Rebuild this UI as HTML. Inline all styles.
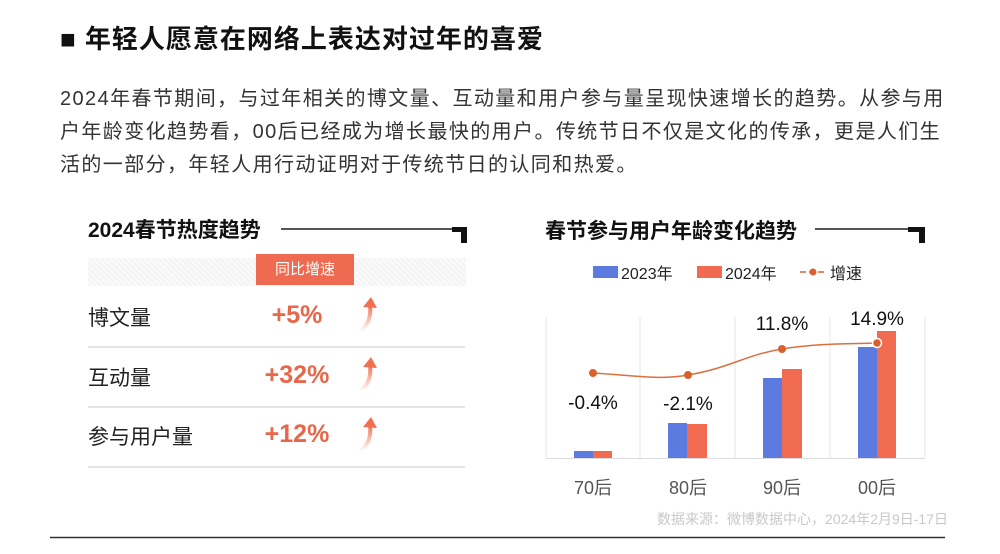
<!DOCTYPE html>
<html><head><meta charset="utf-8"><style>
body{margin:0;width:1000px;height:554px;background:#fff;position:relative;overflow:hidden;font-family:"Liberation Sans","Noto Sans CJK SC",sans-serif;color:#222}
.a{position:absolute;white-space:nowrap}
</style></head><body>
<div class="a" style="left:60px;top:19px;font-size:26px;font-weight:bold;color:#111;letter-spacing:1px">■ 年轻人愿意在网络上表达对过年的喜爱</div>
<div class="a" style="left:60px;top:83px;font-size:20px;line-height:33px;color:#333;letter-spacing:1.4px">2024年春节期间，与过年相关的博文量、互动量和用户参与量呈现快速增长的趋势。从参与用<br>户年龄变化趋势看，00后已经成为增长最快的用户。传统节日不仅是文化的传承，更是人们生<br>活的一部分，年轻人用行动证明对于传统节日的认同和热爱。</div>

<div class="a" style="left:88px;top:214px;font-size:21px;font-weight:bold;color:#111">2024春节热度趋势</div>
<div class="a" style="left:281px;top:228px;width:180px;height:2px;background:#555"></div>
<div class="a" style="left:452px;top:227px;width:15px;height:5px;background:#111"></div>
<div class="a" style="left:461px;top:227px;width:6px;height:16px;background:#111"></div>
<div class="a" style="left:88px;top:258px;width:378px;height:28px;background:repeating-linear-gradient(45deg,#f4f4f4 0 2px,#fafafa 2px 4px)"></div>
<div class="a" style="left:256px;top:254px;width:98px;height:31px;background:#ee6a50;color:#fff;font-size:15px;line-height:31px;text-align:center">同比增速</div>
<div class="a" style="left:88px;top:302px;font-size:21px;color:#222">博文量</div>
<div class="a" style="left:88px;top:362px;font-size:21px;color:#222">互动量</div>
<div class="a" style="left:88px;top:421px;font-size:21px;color:#222">参与用户量</div>
<div class="a" style="left:247px;top:301px;width:100px;text-align:center;font-size:25px;font-weight:bold;color:#e8664a">+5%</div>
<div class="a" style="left:247px;top:361px;width:100px;text-align:center;font-size:25px;font-weight:bold;color:#e8664a">+32%</div>
<div class="a" style="left:247px;top:420px;width:100px;text-align:center;font-size:25px;font-weight:bold;color:#e8664a">+12%</div>
<div class="a" style="left:88px;top:346px;width:377px;height:2px;background:#e4e4e4"></div>
<div class="a" style="left:88px;top:406px;width:377px;height:2px;background:#e4e4e4"></div>
<div class="a" style="left:88px;top:466px;width:377px;height:2px;background:#e4e4e4"></div>
<svg class="a" style="left:350px;top:295px" width="40" height="170">
<defs><linearGradient id="g" x1="0" y1="1" x2="0" y2="0"><stop offset="0" stop-color="#f07050" stop-opacity="0"/><stop offset="1" stop-color="#f07050"/></linearGradient></defs>
<g fill="none" stroke="url(#g)" stroke-width="4"><path d="M10 36 Q22 28 20 10"/><path d="M10 96 Q22 88 20 70"/><path d="M10 156 Q22 148 20 130"/></g>
<g fill="#f07050"><path d="M13 12 L21 2 L27 13Z"/><path d="M13 72 L21 62 L27 73Z"/><path d="M13 132 L21 122 L27 133Z"/></g>
</svg>

<div class="a" style="left:545px;top:215px;font-size:21px;font-weight:bold;color:#111">春节参与用户年龄变化趋势</div>
<div class="a" style="left:815px;top:228px;width:100px;height:2px;background:#555"></div>
<div class="a" style="left:908px;top:227px;width:17px;height:5px;background:#111"></div>
<div class="a" style="left:919px;top:227px;width:6px;height:16px;background:#111"></div>

<svg class="a" style="left:0;top:0" width="1000" height="554" font-family="Liberation Sans,Noto Sans CJK SC,sans-serif">
<rect x="593" y="266" width="25" height="12" fill="#5b7be0"/>
<text x="621" y="279" font-size="16" fill="#222">2023年</text>
<rect x="697" y="266" width="25" height="12" fill="#f06b4f"/>
<text x="725" y="279" font-size="16" fill="#222">2024年</text>
<line x1="800" y1="272" x2="827" y2="272" stroke="#d9602e" stroke-width="1.5" stroke-dasharray="6 3"/>
<circle cx="813" cy="272" r="3.5" fill="#d9602e"/>
<text x="830" y="279" font-size="16" fill="#222">增速</text>
<g stroke="#e6e6e6" stroke-width="1"><line x1="546" y1="317" x2="546" y2="458"/><line x1="640" y1="317" x2="640" y2="458"/><line x1="735" y1="317" x2="735" y2="458"/><line x1="830" y1="317" x2="830" y2="458"/><line x1="925" y1="317" x2="925" y2="458"/></g>
<line x1="546" y1="458.5" x2="925" y2="458.5" stroke="#ddd"/>
<g fill="#5b7be0"><rect x="574" y="451" width="19" height="7"/><rect x="668" y="423" width="19" height="35"/><rect x="763" y="378" width="19" height="80"/><rect x="858" y="347" width="19" height="111"/></g>
<g fill="#f06b4f"><rect x="593" y="451" width="19" height="7"/><rect x="687" y="424" width="20" height="34"/><rect x="782" y="369" width="20" height="89"/><rect x="877" y="331" width="19" height="127"/></g>
<path d="M593 373 C640 376 660 380 688 375 C730 368 745 355 782 349 C820 343 850 344 877 343" fill="none" stroke="#d9703e" stroke-width="1.5"/>
<g fill="#d9602e"><circle cx="593" cy="373" r="4"/><circle cx="688" cy="375" r="4"/><circle cx="782" cy="349" r="4"/><circle cx="877" cy="343" r="4.5" stroke="#fff" stroke-width="1.5"/></g>
<g font-size="19" fill="#111" text-anchor="middle"><text x="593" y="409">-0.4%</text><text x="688" y="410">-2.1%</text><text x="782" y="330">11.8%</text><text x="877" y="325">14.9%</text></g>
<g font-size="18" fill="#555" text-anchor="middle"><text x="593" y="494">70后</text><text x="688" y="494">80后</text><text x="782" y="494">90后</text><text x="877" y="494">00后</text></g>
<text x="948" y="524" font-size="14" fill="#c8c8c8" text-anchor="end">数据来源：微博数据中心，2024年2月9日-17日</text>
<line x1="50" y1="537.5" x2="945" y2="537.5" stroke="#333" stroke-width="1.5"/>
</svg>
</body></html>
